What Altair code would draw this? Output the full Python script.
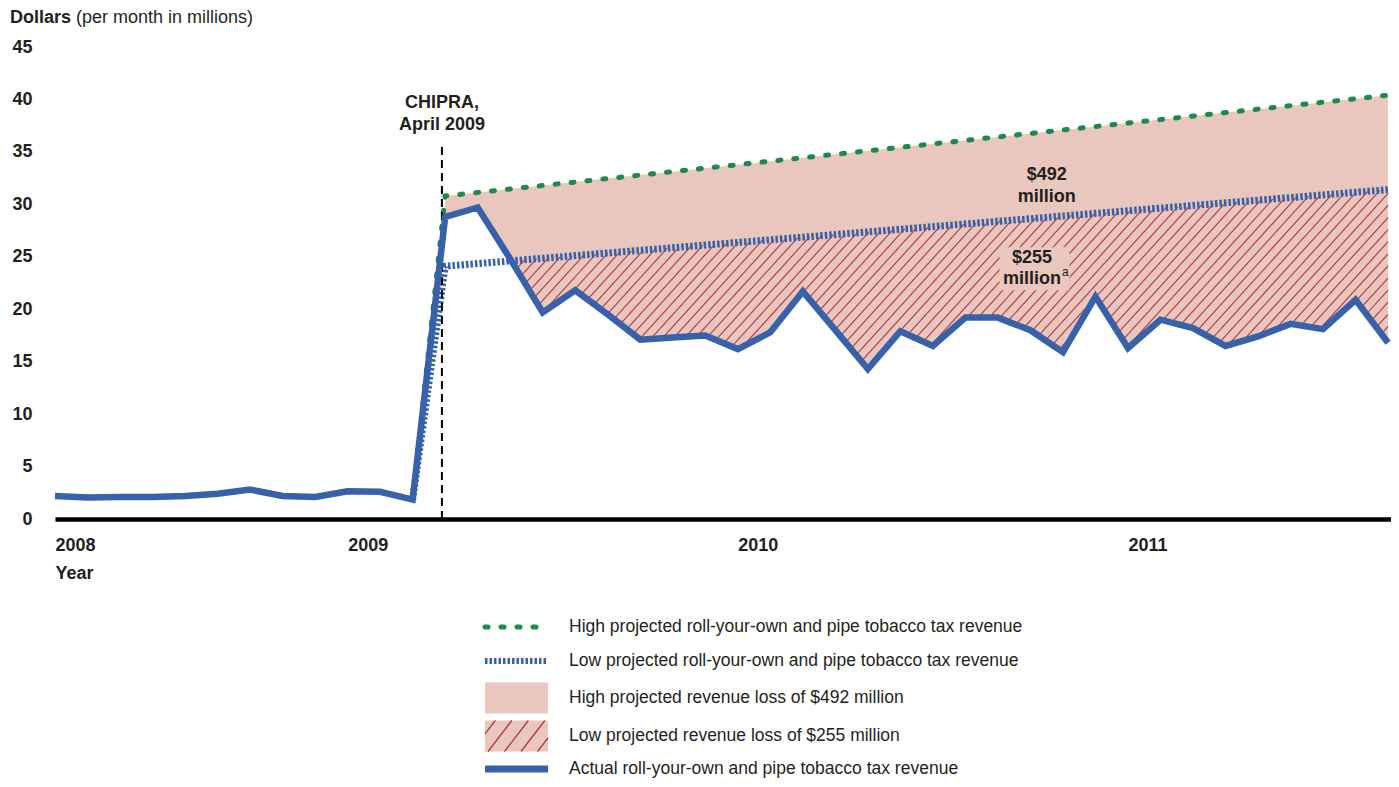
import altair as alt
import numpy as np
import pandas as pd

# ---------------- data ----------------
# month index: 0 = April 2008 ... 41 = September 2011
months = list(range(42))
actual_revenue = [2.2, 2.05, 2.1, 2.1, 2.2, 2.4, 2.8, 2.2, 2.1, 2.65, 2.6, 1.85,
                  28.8, 29.7, 24.8, 19.7, 21.8, 19.5, 17.1, 17.3, 17.5, 16.2,
                  17.8, 21.7, 18.0, 14.3, 17.9, 16.5, 19.2, 19.2, 18.0, 15.9,
                  21.2, 16.3, 19.0, 18.2, 16.5, 17.4, 18.6, 18.1, 20.9, 16.8]
proj_months = [11, 12, 41]
high_projection = [1.85, 30.8, 40.4]
low_projection = [1.85, 24.1, 31.4]
chipra_month = 11.9
year_labels = ["2008", "2009", "2010", "2011"]
year_months = [0, 9, 21, 33]
y_ticks = [0, 5, 10, 15, 20, 25, 30, 35, 40, 45]
legend_labels = [
    "High projected roll-your-own and pipe tobacco tax revenue",
    "Low projected roll-your-own and pipe tobacco tax revenue",
    "High projected revenue loss of $492 million",
    "Low projected revenue loss of $255 million",
    "Actual roll-your-own and pipe tobacco tax revenue",
]

# ---------------- layout / style ----------------
W, H = 1336, 472
XMAX = 41.09
YMAX = 45
SX = W / XMAX
SY = H / YMAX
FONT = "Liberation Sans"
BLUE = "#3761a8"
GREEN = "#1b8a4b"
PINK = "#e9c6be"
HATCH = "#b8343e"
TEXT = "#231f20"

xs = alt.Scale(domain=[0, XMAX], nice=False, zero=False)
ys = alt.Scale(domain=[0, YMAX], nice=False)
label_expr = " : ".join(f"datum.value == {m} ? '{y}'" for m, y in zip(year_months, year_labels)) + " : ''"
x_axis = alt.Axis(values=year_months, labelExpr=label_expr, title="Year", grid=False, ticks=False,
                  domain=True, domainColor="black", domainWidth=4.5, labelAlign="left",
                  labelPadding=17, labelFont=FONT, labelFontSize=18, labelFontWeight="bold",
                  labelColor=TEXT, labelOverlap=False, labelBound=False, labelFlush=False,
                  titleAnchor="start", titleAlign="left", titleFont=FONT, titleFontSize=18,
                  titleFontWeight="bold", titleColor=TEXT, titlePadding=10)
y_axis = alt.Axis(values=y_ticks, title=None, grid=False, ticks=False, domain=False,
                  labelPadding=23, labelFont=FONT, labelFontSize=18, labelFontWeight="bold",
                  labelColor=TEXT)


def ex(f):
    return alt.X(f, type="quantitative", scale=xs, axis=x_axis)


def ey(f):
    return alt.Y(f, type="quantitative", scale=ys, axis=y_axis)


t_arr = np.array(months, dtype=float)

# pink area: between high projection and actual revenue
area_t = t_arr[t_arr >= proj_months[1]]
area_df = pd.DataFrame({
    "t": area_t,
    "hi": np.interp(area_t, proj_months, high_projection),
    "act": np.interp(area_t, months, actual_revenue),
})

# hatch texture: diagonal strokes clipped to region between low projection and actual
K = 1.1
GAP = 11 * K
t_f = np.arange(proj_months[1], proj_months[-1] + 1e-9, 0.002)
act_f = np.interp(t_f, months, actual_revenue)
low_f = np.interp(t_f, proj_months, low_projection)
Xp = t_f * SX
cmin = act_f.min() * SY - K * Xp.max() - 30
cmax = low_f.max() * SY - K * Xp.min() + 30
rows = []
for c in np.arange(cmin, cmax, GAP):
    v = (K * Xp + c) / SY
    inside = (v >= act_f) & (v <= low_f)
    if not inside.any():
        continue
    d = np.diff(np.concatenate([[0], inside.astype(int), [0]]))
    starts = np.flatnonzero(d == 1)
    ends = np.flatnonzero(d == -1) - 1
    for s, e in zip(starts, ends):
        if e > s:
            rows.append({"t0": t_f[s], "v0": v[s], "t1": t_f[e], "v1": v[e]})
hatch_df = pd.DataFrame(rows)

high_df = pd.DataFrame({"t": proj_months, "v": high_projection})
low_df = pd.DataFrame({"t": proj_months, "v": low_projection})
actual_df = pd.DataFrame({"t": months, "v": actual_revenue})
chipra_df = pd.DataFrame({"t": [chipra_month], "v0": [0.0], "v1": [35.6]})
box_df = pd.DataFrame({"t0": [29.05], "t1": [31.2], "v0": [21.8], "v1": [25.9]})
ann_df = pd.DataFrame({
    "t": [chipra_month, chipra_month, 30.5, 30.5, 30.05, 30.05],
    "v": [39.66, 37.56, 32.8, 30.7, 24.88, 22.88],
    "text": ["CHIPRA,", "April 2009", "$492", "million", "$255", "million"],
})
sup_df = pd.DataFrame({"t": [30.05], "v": [22.88], "text": ["a"]})
one = pd.DataFrame({"_": [0]})

area = alt.Chart(area_df).mark_area(color=PINK, opacity=1).encode(
    x=ex("t"), y=ey("hi"), y2=alt.Y2("act"))
hatch = alt.Chart(hatch_df).mark_rule(color=HATCH, strokeWidth=1.1).encode(
    x=ex("t0"), y=ey("v0"), x2=alt.X2("t1"), y2=alt.Y2("v1"))
box = alt.Chart(box_df).mark_rect(color=PINK, opacity=1).encode(
    x=ex("t0"), x2=alt.X2("t1"), y=ey("v0"), y2=alt.Y2("v1"))
high = alt.Chart(high_df).mark_line(color=GREEN, strokeWidth=5, strokeDash=[3, 13],
                                    strokeCap="round").encode(x=ex("t"), y=ey("v"))
low = alt.Chart(low_df).mark_line(color=BLUE, strokeWidth=7, strokeDash=[2.5, 2]).encode(
    x=ex("t"), y=ey("v"))
chipra = alt.Chart(chipra_df).mark_rule(color="black", strokeWidth=2, strokeDash=[8, 5]).encode(
    x=ex("t"), y=ey("v0"), y2=alt.Y2("v1"))
actual = alt.Chart(actual_df).mark_line(color=BLUE, strokeWidth=6.5).encode(
    x=ex("t"), y=ey("v"))
ann = alt.Chart(ann_df).mark_text(font=FONT, fontSize=18, fontWeight="bold", color=TEXT,
                                  align="center", baseline="middle").encode(
    x=ex("t"), y=ey("v"), text="text:N")
sup = alt.Chart(sup_df).mark_text(font=FONT, fontSize=12, color=TEXT, align="left",
                                  baseline="middle", dx=30, dy=-7).encode(
    x=ex("t"), y=ey("v"), text="text:N")
title1 = alt.Chart(one).mark_text(font=FONT, fontSize=18, fontWeight="bold", color=TEXT,
                                  align="left", baseline="top").encode(
    x=alt.value(-45), y=alt.value(-38), text=alt.value("Dollars"))
title2 = alt.Chart(one).mark_text(font=FONT, fontSize=18, color=TEXT,
                                  align="left", baseline="top").encode(
    x=alt.value(21), y=alt.value(-38), text=alt.value("(per month in millions)"))

main = alt.layer(area, hatch, box, high, low, chipra, actual, ann, sup, title1, title2)

# ---------------- legend (pixel positions relative to plot origin) ----------------
lxs = alt.Scale(domain=[0, W], range=[0, W])
lys = alt.Scale(domain=[0, H], range=[0, H])


def lx(f):
    return alt.X(f, type="quantitative", scale=lxs, axis=None)


def ly(f):
    return alt.Y(f, type="quantitative", scale=lys, axis=None)


row_y = [580, 614, 651, 689, 722]
SYM_X0, SYM_X1, TXT_X = 430, 493, 514
leg_text_df = pd.DataFrame({"x": [TXT_X] * 5, "y": row_y, "text": legend_labels})
leg_green_df = pd.DataFrame({"x0": [SYM_X0], "x1": [SYM_X1], "y": [row_y[0]]})
leg_blue_dot_df = pd.DataFrame({"x0": [SYM_X0], "x1": [SYM_X1], "y": [row_y[1]]})
leg_blue_df = pd.DataFrame({"x0": [SYM_X0], "x1": [SYM_X1], "y": [row_y[4]]})
leg_rect_df = pd.DataFrame({"x0": [SYM_X0, SYM_X0], "x1": [SYM_X1, SYM_X1],
                            "y0": [row_y[2] - 15.5, row_y[3] - 15.5],
                            "y1": [row_y[2] + 15.5, row_y[3] + 15.5]})
# legend hatch strokes
hy0, hy1 = row_y[3] - 15.5, row_y[3] + 15.5
m = 1.3
lrows = []
for xb in np.arange(SYM_X0 - 30, SYM_X1 + 10, 16.5):
    xt = xb + (hy1 - hy0) / m
    pa = (xb, hy1)
    pb = (xt, hy0)
    if xt < SYM_X0 or xb > SYM_X1:
        continue
    if pa[0] < SYM_X0:
        pa = (SYM_X0, hy1 - m * (SYM_X0 - xb))
    if pb[0] > SYM_X1:
        pb = (SYM_X1, hy1 - m * (SYM_X1 - xb))
    lrows.append({"x0": pa[0], "y0": pa[1], "x1": pb[0], "y1": pb[1]})
leg_hatch_df = pd.DataFrame(lrows)

leg_text = alt.Chart(leg_text_df).mark_text(font=FONT, fontSize=17.5, color=TEXT, align="left",
                                            baseline="middle").encode(
    x=lx("x"), y=ly("y"), text="text:N")
leg_green = alt.Chart(leg_green_df).mark_rule(color=GREEN, strokeWidth=5, strokeDash=[3, 13],
                                              strokeCap="round").encode(
    x=lx("x0"), x2=alt.X2("x1"), y=ly("y"))
leg_blue_dot = alt.Chart(leg_blue_dot_df).mark_rule(color=BLUE, strokeWidth=6,
                                                    strokeDash=[2.5, 2]).encode(
    x=lx("x0"), x2=alt.X2("x1"), y=ly("y"))
leg_blue = alt.Chart(leg_blue_df).mark_rule(color=BLUE, strokeWidth=7).encode(
    x=lx("x0"), x2=alt.X2("x1"), y=ly("y"))
leg_rect = alt.Chart(leg_rect_df).mark_rect(color=PINK, opacity=1).encode(
    x=lx("x0"), x2=alt.X2("x1"), y=ly("y0"), y2=alt.Y2("y1"))
leg_hatch = alt.Chart(leg_hatch_df).mark_rule(color=HATCH, strokeWidth=1.3).encode(
    x=lx("x0"), y=ly("y0"), x2=alt.X2("x1"), y2=alt.Y2("y1"))

legend = alt.layer(leg_rect, leg_hatch, leg_green, leg_blue_dot, leg_blue, leg_text)

chart = alt.layer(main, legend).resolve_scale(x="independent", y="independent").properties(
    width=W, height=H,
    autosize=alt.AutoSizeParams(type="none"),
    padding={"left": 47, "top": 39, "right": 0, "bottom": 260},
).configure_view(stroke=None)

chart.save("out.html", embed_options={"renderer": "svg", "actions": False})
